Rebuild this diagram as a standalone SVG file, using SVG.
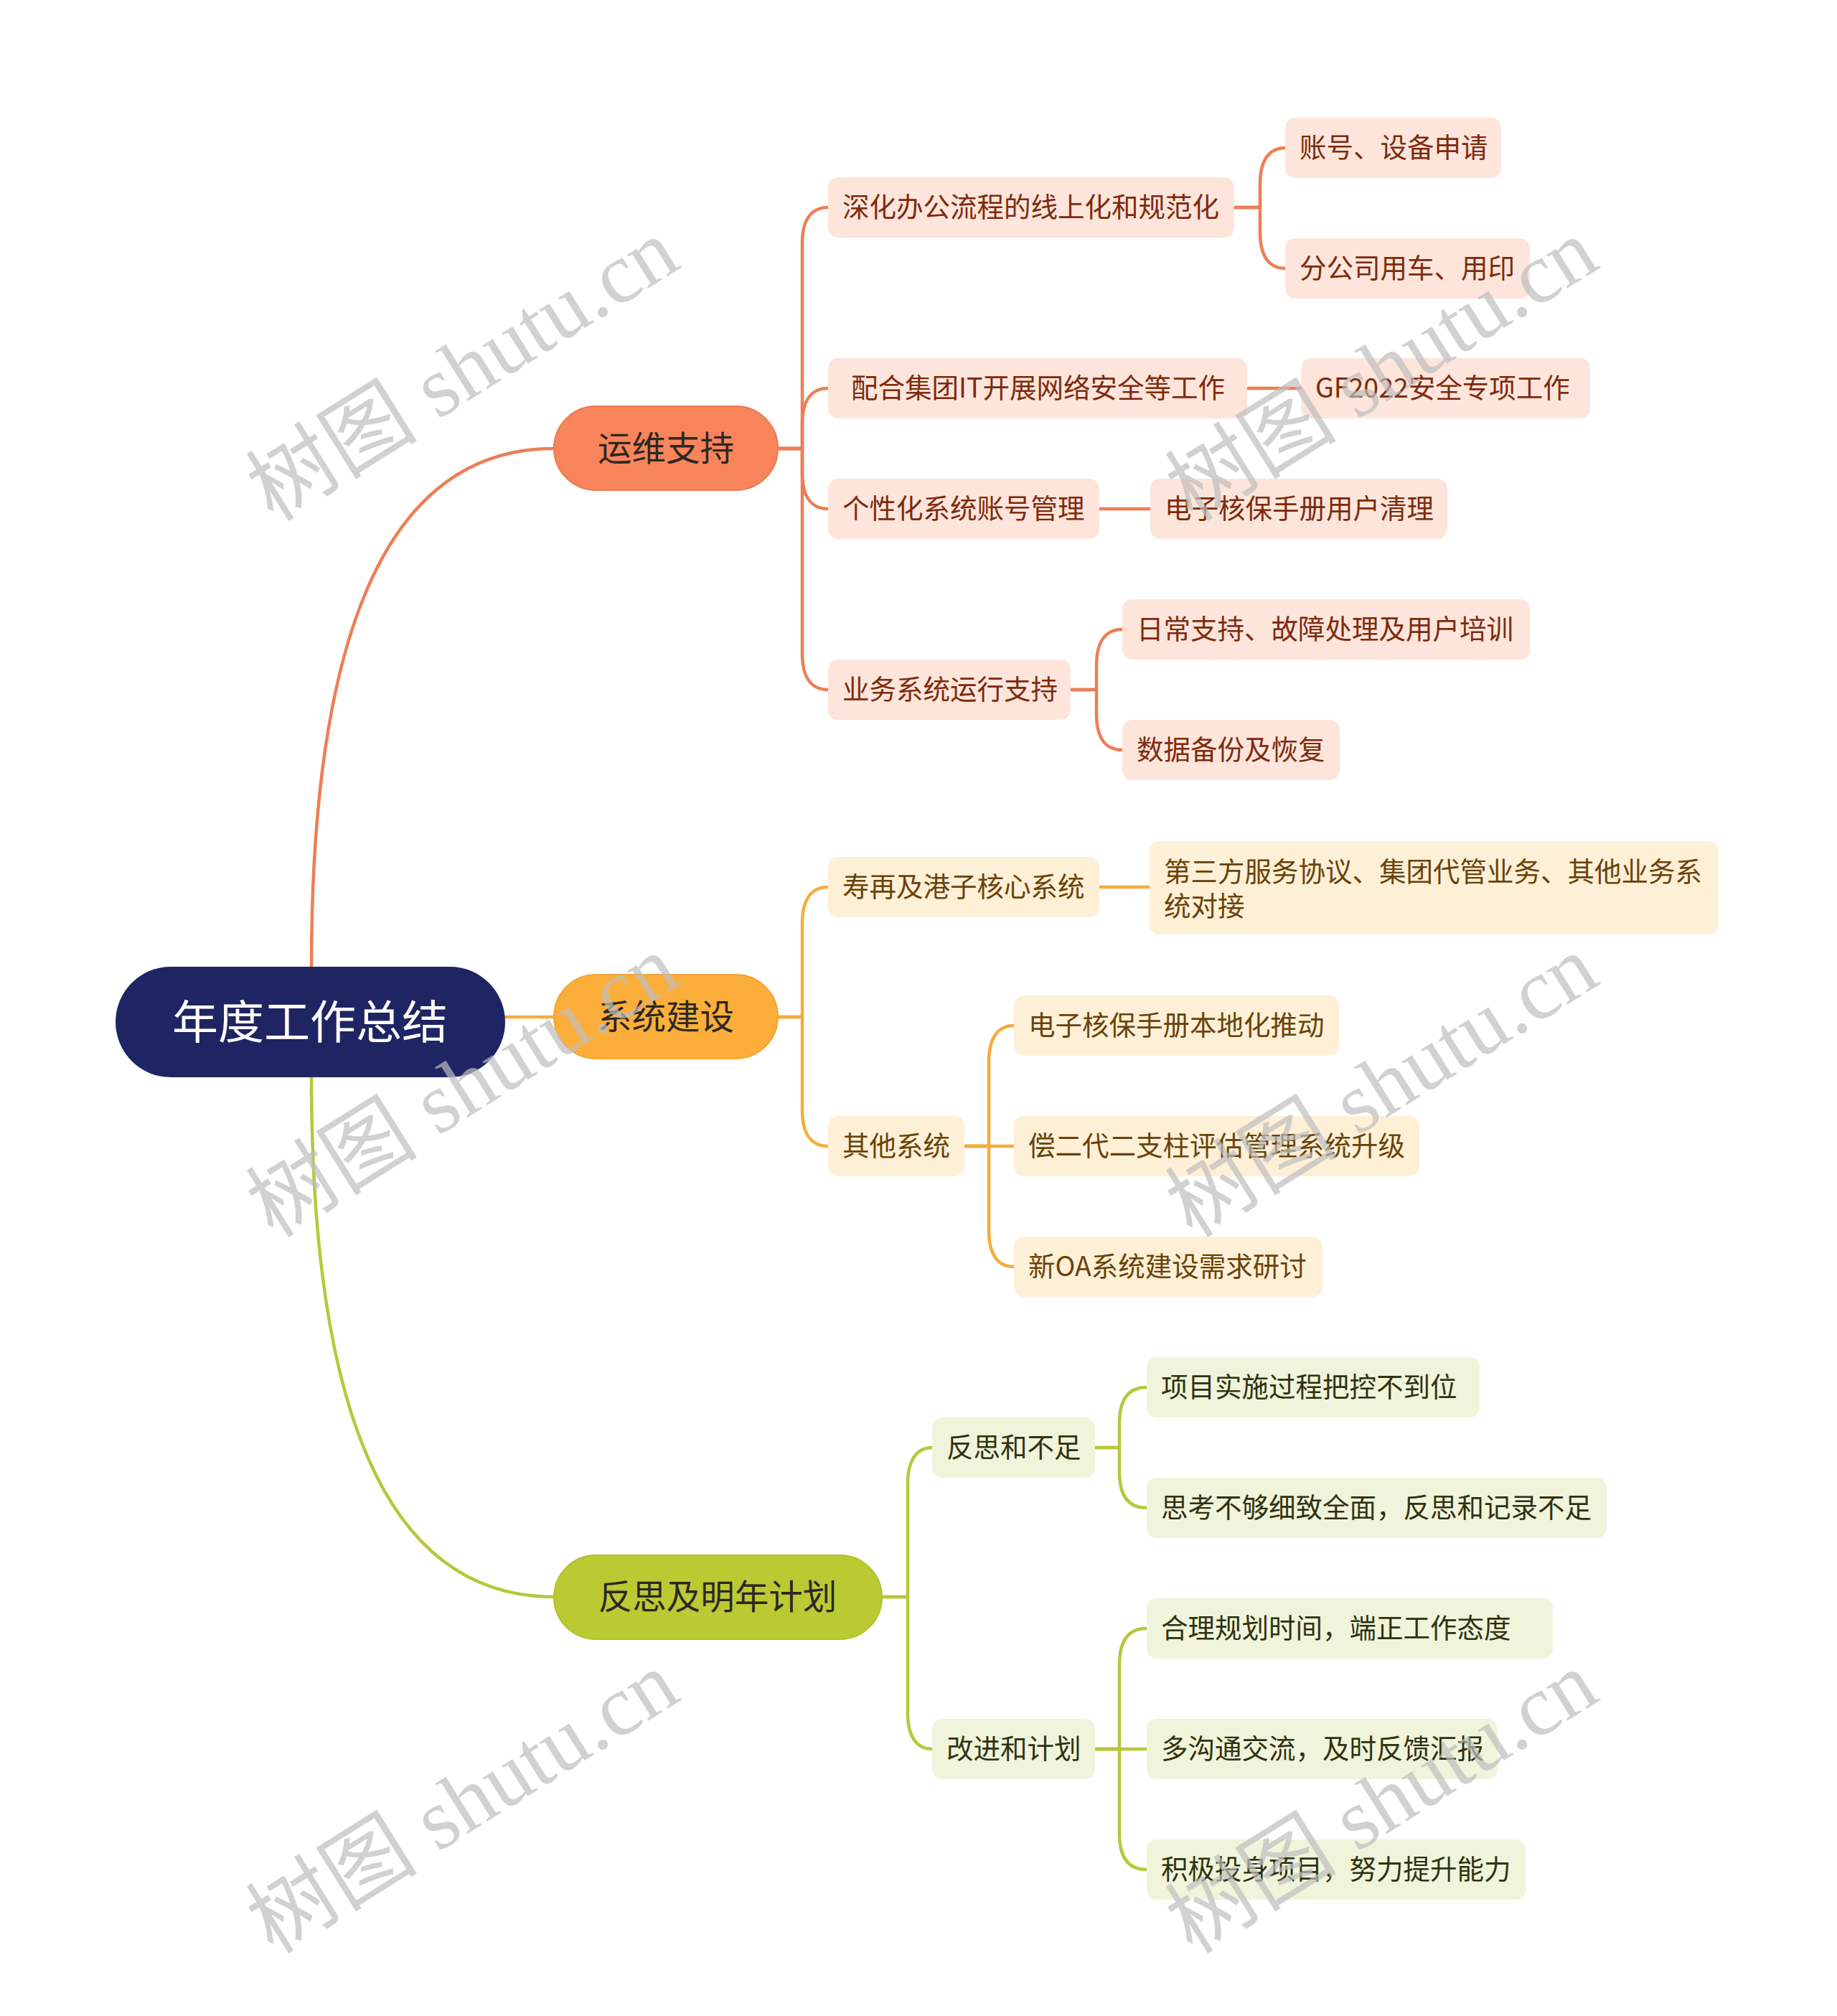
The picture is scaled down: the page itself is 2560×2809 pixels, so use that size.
<svg xmlns="http://www.w3.org/2000/svg" width="2560" height="2809" viewBox="0 0 2560 2809">
<style>
text{font-family:"Noto Sans CJK SC","Noto Sans",sans-serif;}
.bg{fill:#ffffff;}
.root rect{fill:#1F2562;}
.root text{fill:#ffffff;font-size:64px;text-anchor:middle;}
.main text{fill:#2E2722;font-size:47.5px;text-anchor:middle;}
.mo rect{fill:#F7845A;stroke:#EC7A50;stroke-width:2;}
.my rect{fill:#FCAE3B;stroke:#F3A533;stroke-width:2;}
.mg rect{fill:#BBCA33;stroke:#B0C02C;stroke-width:2;}
.sub text{font-size:37.5px;}
.so rect{fill:#FDE5DB;}
.so text{fill:#7E2A0C;}
.sy rect{fill:#FEF0D7;}
.sy text{fill:#6A4208;}
.sg rect{fill:#F0F4DB;}
.sg text{fill:#2F3210;}
.conn path{fill:none;stroke-width:4.5;stroke-linecap:round;stroke-linejoin:round;}
.co path{stroke:#EE7E55;}
.cy path{stroke:#F7AC3C;}
.cg path{stroke:#B7C83A;}
.wm text{font-family:"Liberation Serif","Noto Sans CJK SC",serif;font-size:120px;fill:#BDBDBD;fill-opacity:0.7;text-anchor:middle;}
</style>
<rect class="bg" x="0" y="0" width="2560" height="2809"/>

<g id="connectors" class="conn">
  <g class="co">
    <path d="M434,1347 Q434,625 772,625"/>
    <path d="M1084,625 H1118 V339 C1118,307 1130,289 1154,289"/>
    <path d="M1084,625 H1118 V591 C1118,559 1130,541 1154,541"/>
    <path d="M1084,625 H1118 V659 C1118,691 1130,709 1154,709"/>
    <path d="M1084,625 H1118 V911 C1118,943 1130,961 1154,961"/>
    <path d="M1720,289 H1756 V256 C1756,224 1768,206 1791,206"/>
    <path d="M1720,289 H1756 V324 C1756,356 1768,374 1791,374"/>
    <path d="M1738,541 H1813"/>
    <path d="M1532,709 H1603"/>
    <path d="M1492,961 H1528 V927 C1528,895 1540,877 1564,877"/>
    <path d="M1492,961 H1528 V995 C1528,1027 1540,1045 1564,1045"/>
  </g>
  <g class="cy">
    <path d="M704,1417 H772"/>
    <path d="M1084,1417 H1118 V1286 C1118,1254 1130,1236 1154,1236"/>
    <path d="M1084,1417 H1118 V1547 C1118,1579 1130,1597 1154,1597"/>
    <path d="M1532,1236 H1602"/>
    <path d="M1340,1597 H1378 V1479 C1378,1447 1390,1429 1413,1429"/>
    <path d="M1340,1597 H1413"/>
    <path d="M1340,1597 H1378 V1715 C1378,1747 1390,1765 1413,1765"/>
  </g>
  <g class="cg">
    <path d="M434,1501 Q434,2225 772,2225"/>
    <path d="M1229,2225 H1265 V2067 C1265,2035 1277,2017 1299,2017"/>
    <path d="M1229,2225 H1265 V2387 C1265,2419 1277,2437 1299,2437"/>
    <path d="M1525,2017 H1560 V1983 C1560,1951 1572,1933 1598,1933"/>
    <path d="M1525,2017 H1560 V2051 C1560,2083 1572,2101 1598,2101"/>
    <path d="M1525,2437 H1560 V2319 C1560,2287 1572,2269 1598,2269"/>
    <path d="M1525,2437 H1598"/>
    <path d="M1525,2437 H1560 V2555 C1560,2587 1572,2605 1598,2605"/>
  </g>
</g>

<g id="root" class="root">
  <rect x="161" y="1347" width="543" height="154" rx="77"/>
  <text x="432" y="1447">年度工作总结</text>
</g>

<g id="n-yunwei" class="main mo">
  <rect x="772" y="566" width="312" height="117" rx="58.5"/>
  <text x="928" y="642">运维支持</text>
</g>
<g id="n-xitong" class="main my">
  <rect x="772" y="1358" width="312" height="117" rx="58.5"/>
  <text x="928" y="1434">系统建设</text>
</g>
<g id="n-fansi" class="main mg">
  <rect x="772" y="2167" width="457" height="117" rx="58.5"/>
  <text x="1000" y="2242">反思及明年计划</text>
</g>

<g id="n-shenhua" class="sub so">
  <rect x="1154" y="247" width="566" height="84" rx="14"/>
  <text x="1174" y="302">深化办公流程的线上化和规范化</text>
</g>
<g id="n-zhanghao" class="sub so">
  <rect x="1791" y="164" width="301" height="84" rx="14"/>
  <text x="1811" y="219">账号、设备申请</text>
</g>
<g id="n-fengongsi" class="sub so">
  <rect x="1791" y="332" width="341" height="84" rx="14"/>
  <text x="1811" y="387">分公司用车、用印</text>
</g>
<g id="n-peihe" class="sub so">
  <rect x="1154" y="499" width="584" height="84" rx="14"/>
  <text x="1186" y="554">配合集团IT开展网络安全等工作</text>
</g>
<g id="n-gf2022" class="sub so">
  <rect x="1813" y="499" width="403" height="84" rx="14"/>
  <text x="1833" y="554">GF2022安全专项工作</text>
</g>
<g id="n-gexinghua" class="sub so">
  <rect x="1154" y="667" width="378" height="84" rx="14"/>
  <text x="1174" y="722">个性化系统账号管理</text>
</g>
<g id="n-hebao-qingli" class="sub so">
  <rect x="1603" y="667" width="414" height="84" rx="14"/>
  <text x="1623" y="722">电子核保手册用户清理</text>
</g>
<g id="n-yewu" class="sub so">
  <rect x="1154" y="919" width="338" height="84" rx="14"/>
  <text x="1174" y="974">业务系统运行支持</text>
</g>
<g id="n-richang" class="sub so">
  <rect x="1564" y="835" width="568" height="84" rx="14"/>
  <text x="1584" y="890">日常支持、故障处理及用户培训</text>
</g>
<g id="n-shuju" class="sub so">
  <rect x="1564" y="1003" width="303" height="84" rx="14"/>
  <text x="1584" y="1058">数据备份及恢复</text>
</g>

<g id="n-shouzai" class="sub sy">
  <rect x="1154" y="1194" width="378" height="84" rx="14"/>
  <text x="1174" y="1249">寿再及港子核心系统</text>
</g>
<g id="n-disanfang" class="sub sy">
  <rect x="1602" y="1172" width="793" height="130" rx="14"/>
  <text x="1622" y="1228">第三方服务协议、集团代管业务、其他业务系</text>
  <text x="1622" y="1276">统对接</text>
</g>
<g id="n-qita" class="sub sy">
  <rect x="1154" y="1555" width="190" height="84" rx="14"/>
  <text x="1174" y="1610">其他系统</text>
</g>
<g id="n-bendihua" class="sub sy">
  <rect x="1413" y="1387" width="453" height="84" rx="14"/>
  <text x="1433" y="1442">电子核保手册本地化推动</text>
</g>
<g id="n-changerdai" class="sub sy">
  <rect x="1413" y="1555" width="565" height="84" rx="14"/>
  <text x="1433" y="1610">偿二代二支柱评估管理系统升级</text>
</g>
<g id="n-xinoa" class="sub sy">
  <rect x="1413" y="1723" width="430" height="84" rx="14"/>
  <text x="1433" y="1778">新OA系统建设需求研讨</text>
</g>

<g id="n-fansibuzu" class="sub sg">
  <rect x="1299" y="1975" width="227" height="84" rx="14"/>
  <text x="1319" y="2030">反思和不足</text>
</g>
<g id="n-xiangmu" class="sub sg">
  <rect x="1598" y="1891" width="464" height="84" rx="14"/>
  <text x="1618" y="1946">项目实施过程把控不到位</text>
</g>
<g id="n-sikao" class="sub sg">
  <rect x="1598" y="2059" width="641" height="84" rx="14"/>
  <text x="1618" y="2114">思考不够细致全面，反思和记录不足</text>
</g>
<g id="n-gaijin" class="sub sg">
  <rect x="1299" y="2395" width="227" height="84" rx="14"/>
  <text x="1319" y="2450">改进和计划</text>
</g>
<g id="n-heli" class="sub sg">
  <rect x="1598" y="2227" width="566" height="84" rx="14"/>
  <text x="1618" y="2282">合理规划时间，端正工作态度</text>
</g>
<g id="n-goutong" class="sub sg">
  <rect x="1598" y="2395" width="489" height="84" rx="14"/>
  <text x="1618" y="2450">多沟通交流，及时反馈汇报</text>
</g>
<g id="n-jiji" class="sub sg">
  <rect x="1598" y="2563" width="528" height="84" rx="14"/>
  <text x="1618" y="2618">积极投身项目，努力提升能力</text>
</g>

<g id="watermarks" class="wm">
  <text transform="translate(645,516) rotate(-32)" y="40">树图 shutu.cn</text>
  <text transform="translate(1926,516) rotate(-32)" y="40">树图 shutu.cn</text>
  <text transform="translate(645,1514) rotate(-32)" y="40">树图 shutu.cn</text>
  <text transform="translate(1926,1514) rotate(-32)" y="40">树图 shutu.cn</text>
  <text transform="translate(645,2512) rotate(-32)" y="40">树图 shutu.cn</text>
  <text transform="translate(1926,2512) rotate(-32)" y="40">树图 shutu.cn</text>
</g>
</svg>
